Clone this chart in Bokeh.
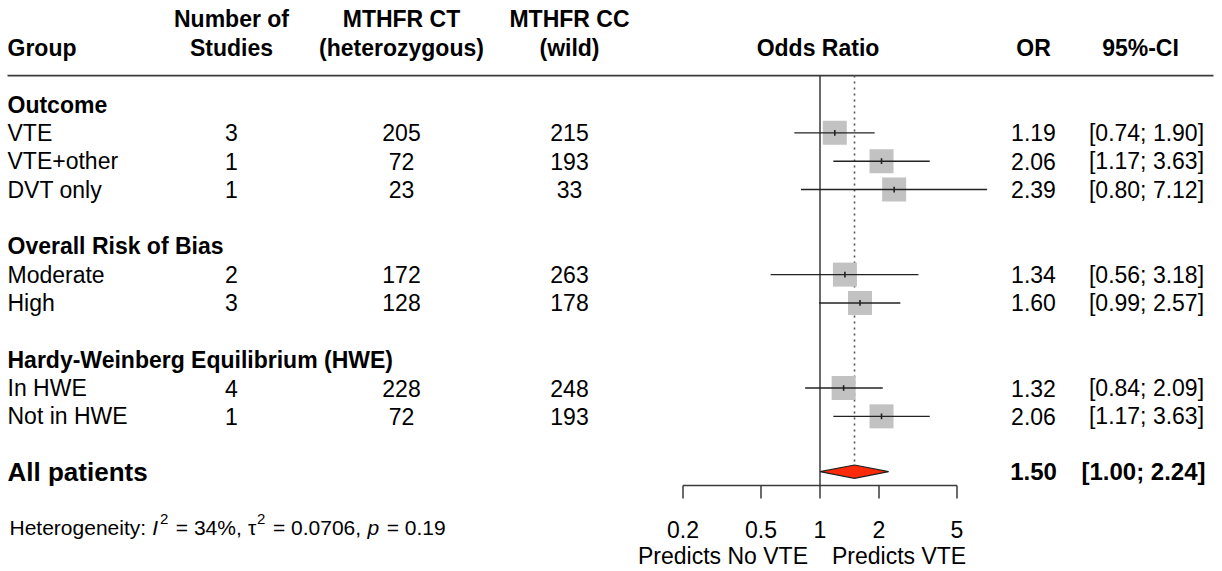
import math
from bokeh.plotting import figure
from bokeh.models import Range1d, LogScale, ColumnDataSource
from bokeh.core.properties import value
from bokeh.embed import file_html
from bokeh.resources import INLINE

# ---------------- data ----------------
header_line1 = ["Number of", "MTHFR CT", "MTHFR CC"]
header_line2 = ["Group", "Studies", "(heterozygous)", "(wild)", "Odds Ratio", "OR", "95%-CI"]

section_titles = ["Outcome", "Overall Risk of Bias", "Hardy-Weinberg Equilibrium (HWE)"]
subgroups = ["VTE", "VTE+other", "DVT only", "Moderate", "High", "In HWE", "Not in HWE"]
n_studies = [3, 1, 1, 2, 3, 4, 1]
mthfr_ct = [205, 72, 23, 172, 128, 228, 72]
mthfr_cc = [215, 193, 33, 263, 178, 248, 193]
odds_ratio = [1.19, 2.06, 2.39, 1.34, 1.60, 1.32, 2.06]
ci_lower = [0.74, 1.17, 0.80, 0.56, 0.99, 0.84, 1.17]
ci_upper = [1.90, 3.63, 7.12, 3.18, 2.57, 2.09, 3.63]

overall_label = "All patients"
overall_or = 1.50
overall_lower = 1.00
overall_upper = 2.24

axis_ticks = [0.2, 0.5, 1, 2, 5]
axis_tick_labels = ["0.2", "0.5", "1", "2", "5"]
favours_left = "Predicts No VTE"
favours_right = "Predicts VTE"

het_i2 = "34%"
het_tau2 = "0.0706"
het_p = "0.19"

# ---------------- layout ----------------
W, H = 1222, 571
FONT = "Liberation Sans"
ROW0_PX, ROW_PX = 104.0, 28.35          # pixel centre of row 1, row spacing
Y_TOP = 1 - ROW0_PX / ROW_PX
Y_BOT = 1 + (H - ROW0_PX) / ROW_PX
OR1_PX, DEC_PX = 819.5, 196.0           # pixel of OR = 1, pixels per decade

section_rows = [1, 6, 10]
sub_rows = [2, 3, 4, 7, 8, 11, 12]
overall_row = 13.95
HEAD1_ROW, HEAD2_ROW = -2.0, -1.0
RULE_ROW = -0.02
AXIS_ROW = 14.44
TICK_LEN = 0.46
TICKLAB_ROW = 15.99
FAV_ROW = 16.93
HET_ROW = 15.92

X_LABEL = 7
X_STUDIES = 231
X_CT = 401
X_CC = 569
X_OR = 1033
X_CI = 1146

FS = 23
FS_SUM = 26
FS_SUMNUM = 24
FS_HET = 21

p = figure(width=W, height=H, x_range=Range1d(0, W), y_range=Range1d(Y_BOT, Y_TOP),
           output_backend="svg", toolbar_location=None, min_border=0,
           x_axis_location=None, y_axis_location=None)
p.grid.visible = False
p.outline_line_color = None
p.background_fill_color = "white"
p.border_fill_color = "white"
p.extra_x_ranges = {"or": Range1d(10 ** (-OR1_PX / DEC_PX), 10 ** ((W - OR1_PX) / DEC_PX))}
p.extra_x_scales = {"or": LogScale()}


def txt(x, y, s, size=FS, style="normal", align="left", rng="default", x_offset=0, y_offset=0):
    xs = x if isinstance(x, list) else [x]
    ys = y if isinstance(y, list) else [y]
    ss = s if isinstance(s, list) else [s]
    p.text(x=xs, y=ys, text=ss, text_font=value(FONT), text_font_size=f"{size}px",
           text_font_style=style, text_align=align, text_baseline="middle",
           text_color="black", x_range_name=rng, x_offset=x_offset, y_offset=y_offset)


# headers
txt([X_STUDIES, X_CT, X_CC], [HEAD1_ROW] * 3, header_line1, style="bold", align="center")
txt(X_LABEL, HEAD2_ROW, header_line2[0], style="bold")
txt([X_STUDIES, X_CT, X_CC], [HEAD2_ROW] * 3, header_line2[1:4], style="bold", align="center")
txt(1.0, HEAD2_ROW, header_line2[4], style="bold", align="center", rng="or", x_offset=-2)
txt([X_OR, X_CI - 6], [HEAD2_ROW] * 2, header_line2[5:7], style="bold", align="center")
p.segment(x0=[7], x1=[1213], y0=[RULE_ROW], y1=[RULE_ROW], line_color="#3a3a3a", line_width=1.6)

# section titles
txt([X_LABEL] * 3, section_rows, section_titles, style="bold")

# subgroup rows
txt([X_LABEL] * len(subgroups), sub_rows, subgroups)
txt([X_STUDIES] * len(sub_rows), sub_rows, [str(v) for v in n_studies], align="center")
txt([X_CT] * len(sub_rows), sub_rows, [str(v) for v in mthfr_ct], align="center")
txt([X_CC] * len(sub_rows), sub_rows, [str(v) for v in mthfr_cc], align="center")
txt([X_OR] * len(sub_rows), sub_rows, [f"{v:.2f}" for v in odds_ratio], align="center")
txt([X_CI] * len(sub_rows), sub_rows,
    [f"[{a:.2f}; {b:.2f}]" for a, b in zip(ci_lower, ci_upper)], align="center")

# overall row
txt(X_LABEL, overall_row, overall_label, size=FS_SUM, style="bold")
txt(X_OR, overall_row, f"{overall_or:.2f}", size=FS_SUMNUM, style="bold", align="center")
txt(X_CI - 3, overall_row, f"[{overall_lower:.2f}; {overall_upper:.2f}]", size=FS_SUMNUM,
    style="bold", align="center")

# forest: reference lines
p.segment(x0=[1], x1=[1], y0=[RULE_ROW], y1=[AXIS_ROW], x_range_name="or",
          line_color="#3a3a3a", line_width=1.5)
DIAM_H = 0.235
p.segment(x0=[overall_or], x1=[overall_or], y0=[RULE_ROW], y1=[overall_row - DIAM_H],
          x_range_name="or", line_color="#555555", line_width=1.6, line_dash="2 4")

# squares, CIs
src = ColumnDataSource(dict(y=sub_rows, est=odds_ratio, lo=ci_lower, hi=ci_upper,
                            t0=[r - 0.1 for r in sub_rows], t1=[r + 0.1 for r in sub_rows]))
p.scatter(x="est", y="y", source=src, marker="square", size=24, fill_color="#C2C2C2",
          line_color=None, x_range_name="or")
p.segment(x0="lo", x1="hi", y0="y", y1="y", source=src, x_range_name="or",
          line_color="#222222", line_width=1.4)
p.segment(x0="est", x1="est", y0="t0", y1="t1", source=src, x_range_name="or",
          line_color="#222222", line_width=1.6)

# diamond
p.patch(x=[overall_lower, overall_or, overall_upper, overall_or],
        y=[overall_row, overall_row - DIAM_H, overall_row, overall_row + DIAM_H],
        x_range_name="or", fill_color="#FA2A0A", line_color="#222222", line_width=1.2)

# axis
p.segment(x0=[axis_ticks[0]], x1=[axis_ticks[-1]], y0=[AXIS_ROW], y1=[AXIS_ROW],
          x_range_name="or", line_color="#3a3a3a", line_width=1.5)
p.segment(x0=axis_ticks, x1=axis_ticks, y0=[AXIS_ROW] * len(axis_ticks),
          y1=[AXIS_ROW + TICK_LEN] * len(axis_ticks), x_range_name="or",
          line_color="#3a3a3a", line_width=1.5)
txt(axis_ticks, [TICKLAB_ROW] * len(axis_ticks), axis_tick_labels, align="center", rng="or")
txt(1.0, FAV_ROW, favours_left, align="right", rng="or", x_offset=-12)
txt(1.0, FAV_ROW, favours_right, align="left", rng="or", x_offset=12)

# heterogeneity line (pieces, Arial-like metrics)
WID = {' ': 278, 'H': 722, 'e': 556, 't': 278, 'r': 333, 'o': 556, 'g': 556, 'n': 556,
       'i': 222, 'y': 500, ':': 278, '=': 584, '%': 889, ',': 278, '.': 278, 'I': 278,
       'p': 556, 'τ': 430}
for d in "0123456789":
    WID[d] = 556


def wid(s, size):
    return sum(WID.get(c, 556) for c in s) * size / 1000.0


pieces = [
    ("Heterogeneity:", "normal", FS_HET, 0, 0.0),
    ("I", "italic", FS_HET, 0, 0.30),
    ("2", "normal", 15, -8, 0.08),
    ("= " + het_i2 + ",", "normal", FS_HET, 0, 0.36),
    ("τ", "normal", FS_HET, 0, 0.30),
    ("2", "normal", 15, -8, 0.0),
    ("= " + het_tau2 + ",", "normal", FS_HET, 0, 0.36),
    ("p", "italic", FS_HET, 0, 0.30),
    ("= " + het_p, "normal", FS_HET, 0, 0.36),
]
x = 9.0
for s, style, size, dy, gap in pieces:
    x += gap * FS_HET
    txt(x, HET_ROW, s, size=size, style=style, y_offset=dy)
    x += wid(s, size)

open("out.html", "w").write(file_html(p, INLINE))
